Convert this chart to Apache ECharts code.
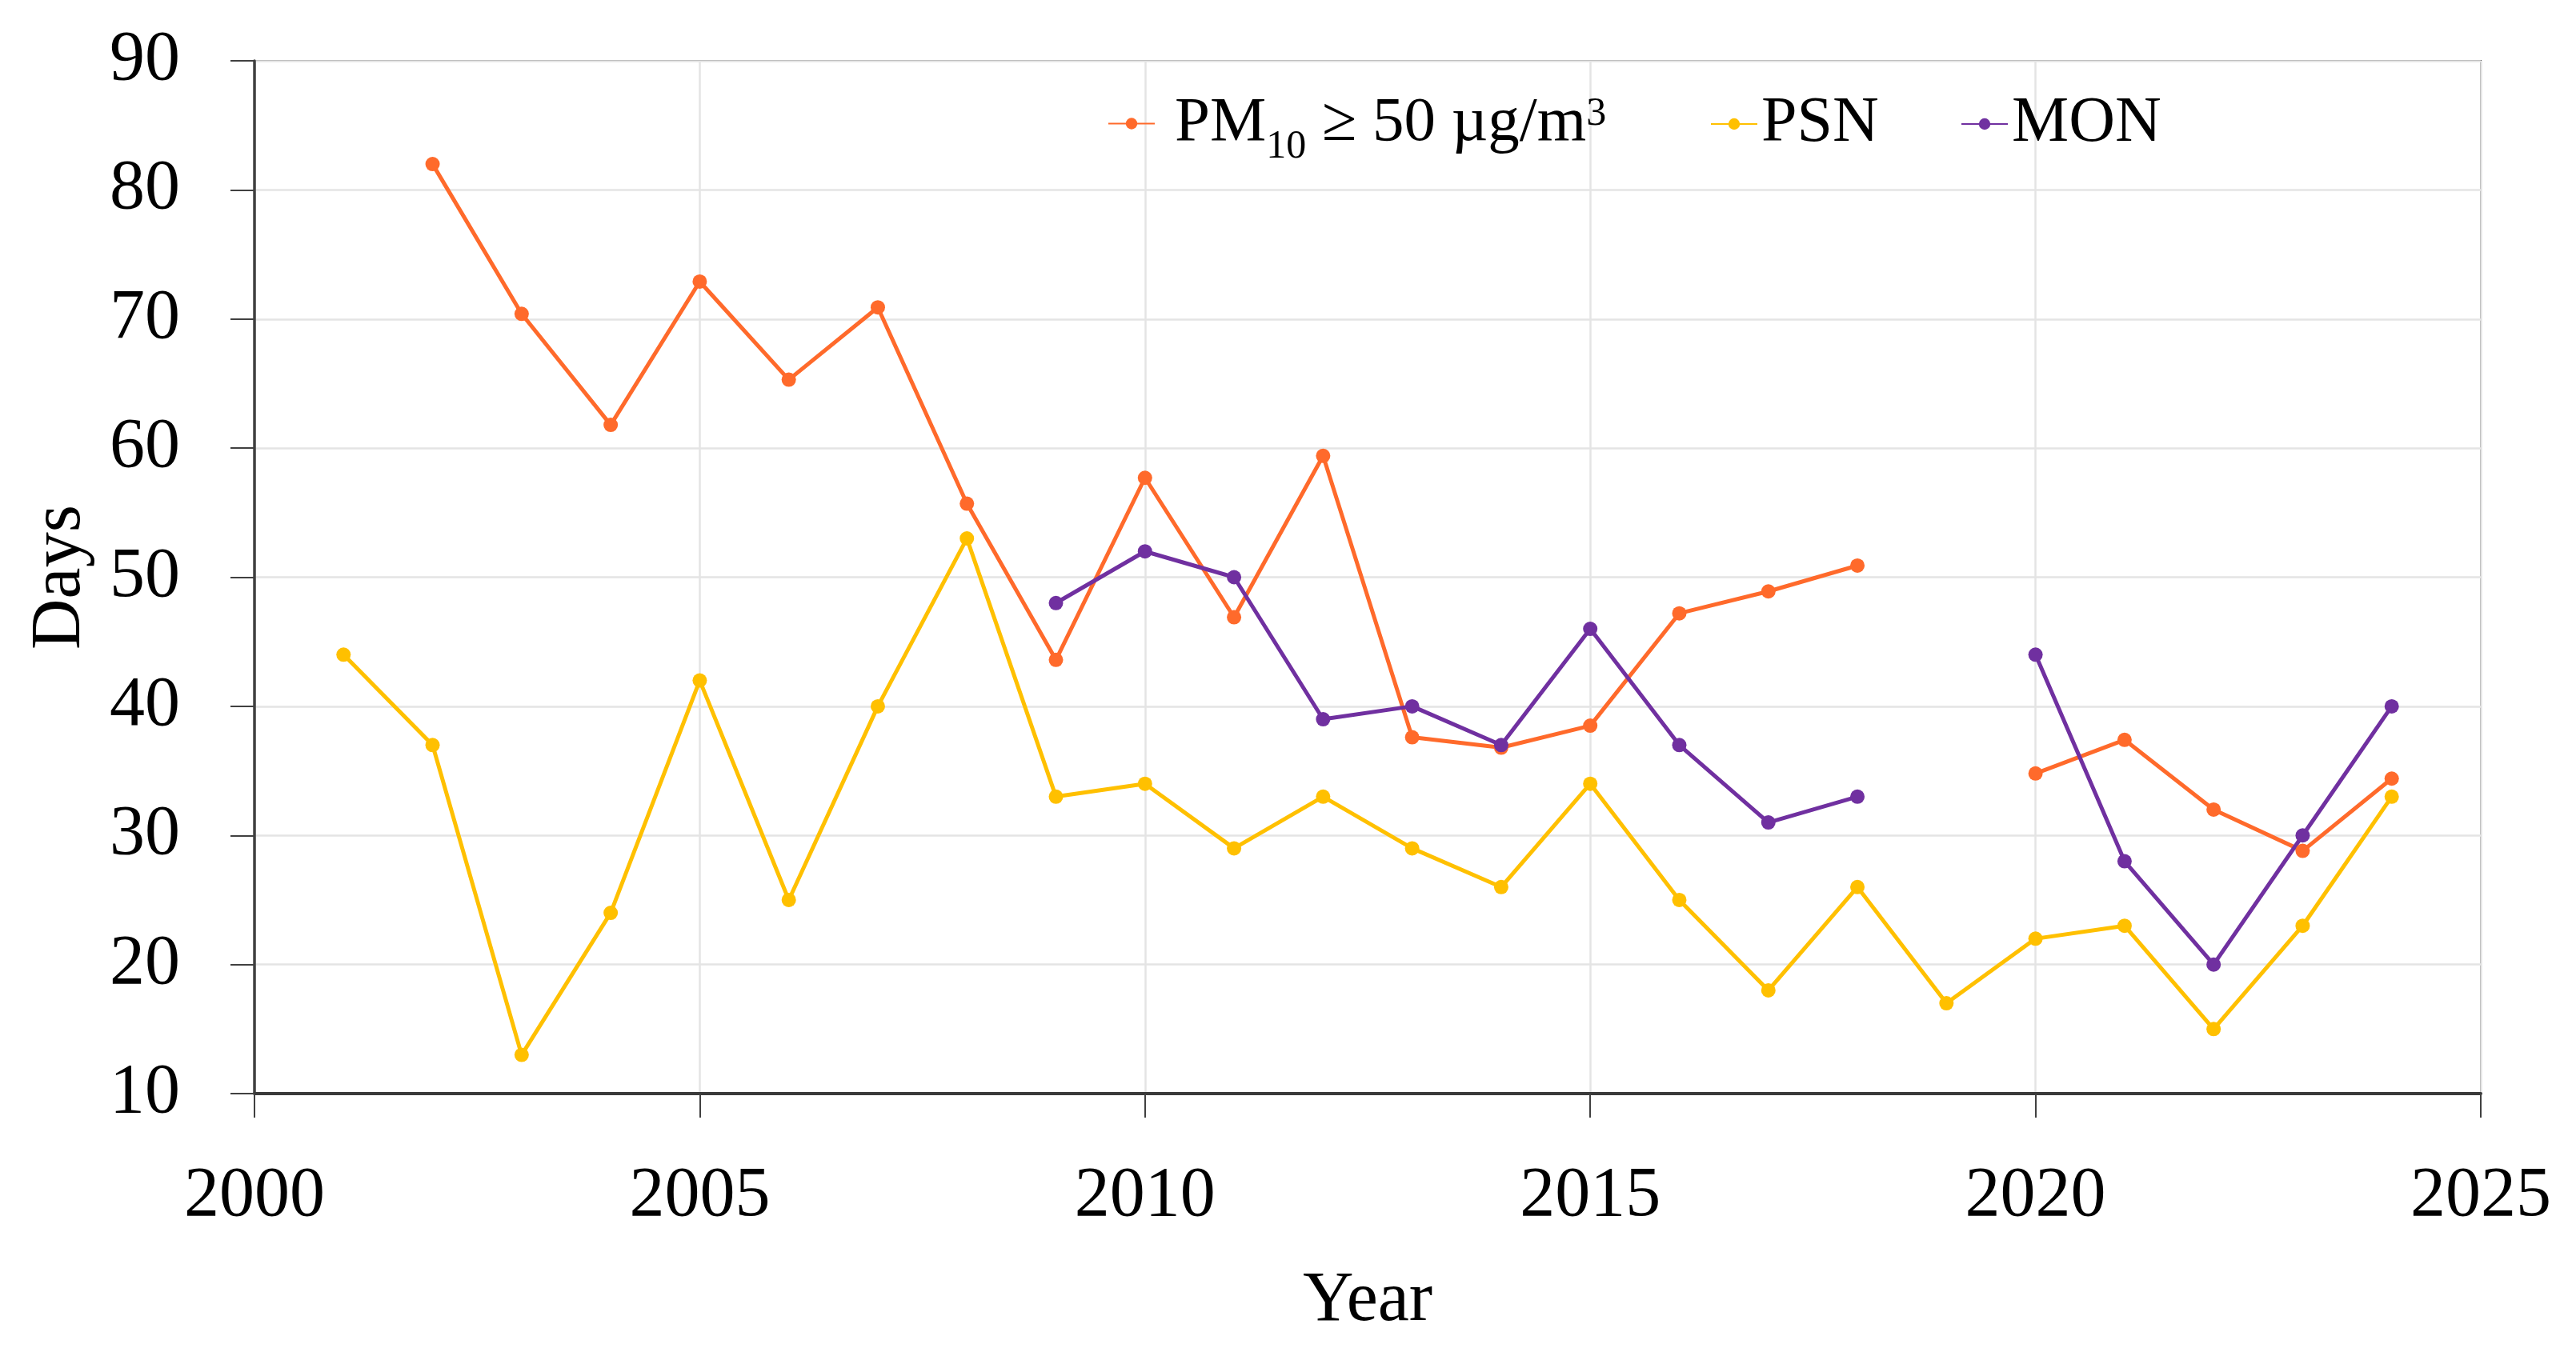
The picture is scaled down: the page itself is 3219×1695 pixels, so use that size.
<!DOCTYPE html>
<html>
<head>
<meta charset="utf-8">
<script src="https://cdn.jsdelivr.net/npm/echarts@6/dist/echarts.min.js"></script>
<style>
html,body{margin:0;padding:0;background:#fff;}
#chart{width:3219px;height:1695px;}
</style>
</head>
<body>
<div id="chart"></div>
<script>
var years = [2001,2002,2003,2004,2005,2006,2007,2008,2009,2010,2011,2012,2013,2014,2015,2016,2017,2018,2019,2020,2021,2022,2023,2024];
var pm10 = [null,82.0,70.4,61.8,72.9,65.3,70.9,55.7,43.6,57.7,46.9,59.4,37.6,36.8,38.5,47.2,48.9,50.9,null,34.8,37.4,32.0,28.8,34.4];
var psn  = [44,37,13,24,42,25,40,53,33,34,29,33,29,26,34,25,18,26,17,22,23,15,23,33];
var mon  = [null,null,null,null,null,null,null,null,48,52,50,39,40,37,46,37,31,33,null,44,28,20,30,40];
var xTicks = {min:2000,max:2025,interval:5};
var yTicks = {min:10,max:90,interval:10};
var names = ['PM10', 'PSN', 'MON'];
var colors = ['#FF6A2B', '#FFC000', '#7030A0'];

function pairs(vals){
  return years.map(function(y,i){ return [y, vals[i] === null ? '-' : vals[i]]; });
}
var FONT = '"Liberation Serif", "DejaVu Serif", serif';
var chart = echarts.init(document.getElementById('chart'));

var pmRich = {
  a:{fontFamily:FONT, fontSize:79, color:'#000', padding:[0,0,0,20]},
  b:{fontFamily:FONT, fontSize:79, color:'#000'},
  sub:{fontFamily:FONT, fontSize:50, color:'#000', padding:[58,0,0,0]},
  sup:{fontFamily:FONT, fontSize:50, color:'#000', padding:[0,0,24,0]}
};
function legend(name, left, rich){
  var l = {
    data:[name], left:left, top:110, itemWidth:58, itemHeight:18,
    textStyle:{fontFamily:FONT, fontSize:80, color:'#000'}
  };
  if (rich) {
    l.textStyle.rich = rich;
    l.formatter = '{a|PM}{sub|10}{b| ≥ 50 µg/m}{sup|3}';
  }
  return l;
}

chart.setOption({
  animation:false,
  backgroundColor:'#fff',
  grid:{left:318, right:119, top:76, bottom:328, show:true, borderColor:'#555', borderWidth:2,
        containLabel:false, outerBoundsMode:'none'},
  legend:[
    legend('PM10', 1379, pmRich),
    legend('PSN', 2132),
    legend('MON', 2445)
  ],
  xAxis:{
    type:'value', min:xTicks.min, max:xTicks.max, interval:xTicks.interval,
    name:'Year', nameLocation:'middle', nameGap:216,
    nameTextStyle:{fontFamily:FONT, fontSize:88, color:'#000'},
    axisLine:{lineStyle:{color:'#3a3a3a', width:4}},
    axisTick:{show:true, length:30, lineStyle:{color:'#404040', width:2}},
    axisLabel:{fontFamily:FONT, fontSize:88, color:'#000', margin:85, showMinLabel:true, showMaxLabel:true,
               formatter:function(v){ return String(v); }},
    splitLine:{show:true, lineStyle:{color:'#e4e4e4', width:2.5}}
  },
  yAxis:{
    type:'value', min:yTicks.min, max:yTicks.max, interval:yTicks.interval,
    name:'Days', nameLocation:'middle', nameGap:198,
    nameTextStyle:{fontFamily:FONT, fontSize:88, color:'#000'},
    axisLine:{show:true, lineStyle:{color:'#404040', width:3.5}},
    axisTick:{show:true, length:30, lineStyle:{color:'#404040', width:2}},
    axisLabel:{fontFamily:FONT, fontSize:88, color:'#000', margin:93},
    splitLine:{show:true, lineStyle:{color:'#e4e4e4', width:2.5}}
  },
  series:[
    {name:'PM10', type:'line', data:pairs(pm10), symbol:'circle', symbolSize:18, connectNulls:false,
     itemStyle:{color:colors[0]}, lineStyle:{color:colors[0], width:5}},
    {name:'PSN', type:'line', data:pairs(psn), symbol:'circle', symbolSize:18, connectNulls:false,
     itemStyle:{color:colors[1]}, lineStyle:{color:colors[1], width:5}},
    {name:'MON', type:'line', data:pairs(mon), symbol:'circle', symbolSize:18, connectNulls:false,
     itemStyle:{color:colors[2]}, lineStyle:{color:colors[2], width:5}}
  ]
});
</script>
</body>
</html>
